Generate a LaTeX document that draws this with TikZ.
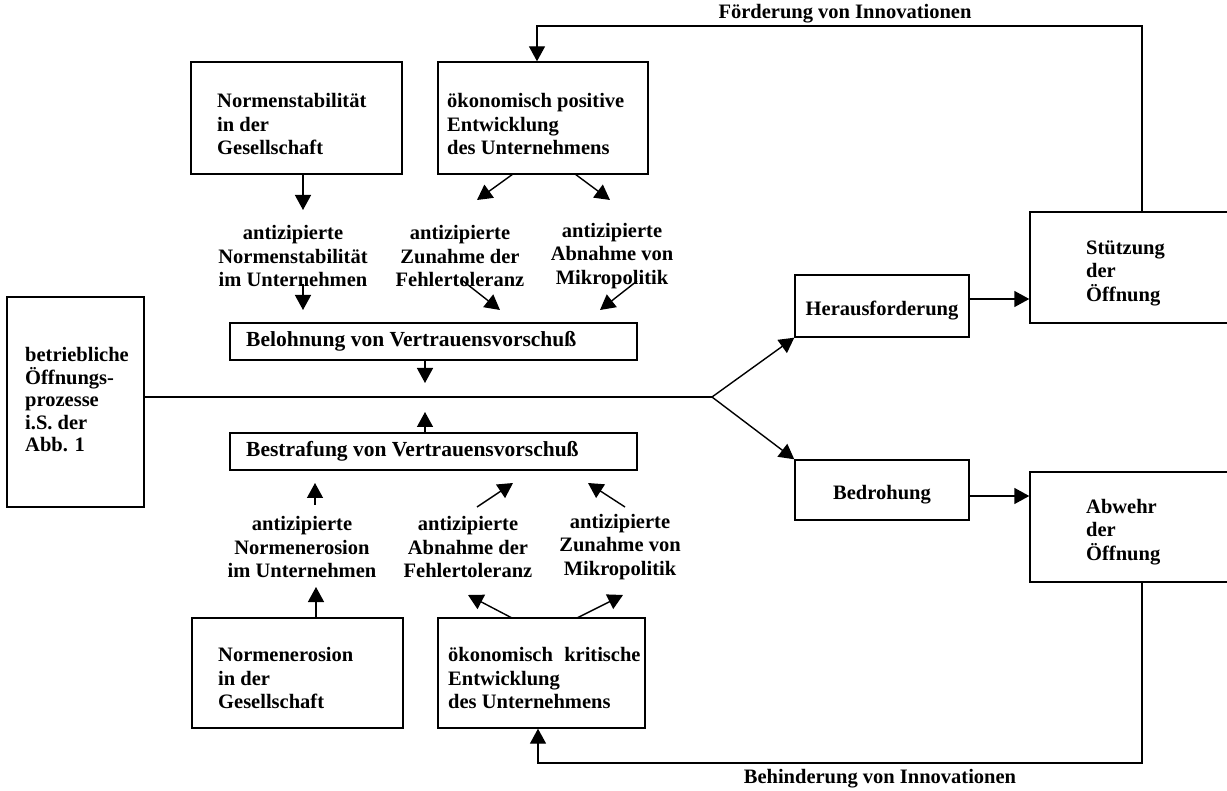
\documentclass[tikz,border=0pt]{standalone}
\usepackage{fontspec}
\setmainfont{Liberation Serif}
\usetikzlibrary{arrows.meta}
\begin{document}
\begin{tikzpicture}[x=1pt,y=-1pt,
  box/.style={draw, line width=1.4pt, inner sep=0pt},
  txt/.style={font=\bfseries\fontsize{20.5}{23.5}\selectfont, align=left, inner sep=0pt},
  ctxt/.style={font=\bfseries\fontsize{20.5}{23.5}\selectfont, align=center, inner sep=0pt},
  wtxt/.style={font=\bfseries\fontsize{21.5}{24}\selectfont, align=left, inner sep=0pt},
  lbl/.style={font=\bfseries\fontsize{20.5}{23}\selectfont, inner sep=0pt},
  ln/.style={line width=1.4pt},
  arr/.style={line width=1.4pt, -{Triangle[length=15pt,width=16pt]}}]
\useasboundingbox (0,0) rectangle (1227,791);

% top boxes
\node[box, minimum width=211pt, minimum height=112pt] (nsg) at (296.5,118) {};
\node[txt, anchor=west] (nsgt) at (217,124) {Normenstabilität\\in der\\Gesellschaft};
\node[box, minimum width=210pt, minimum height=112pt] (okp) at (543,118) {};
\node[txt, anchor=west] (okpt) at (447,124) {ökonomisch positive\\Entwicklung\\des Unternehmens};

% upper anticipation groups
\node[ctxt] (g1) at (293,256) {antizipierte\\Normenstabilität\\im Unternehmen};
\node[ctxt] (g2) at (460,256) {antizipierte\\Zunahme der\\Fehlertoleranz};
\node[ctxt] (g3) at (612,256) {antizipierte\\Abnahme von\\Mikropolitik};

% reward / punishment boxes
\node[box, minimum width=407pt, minimum height=37pt] (bel) at (433.5,341.5) {};
\node[wtxt, anchor=west] (belt) at (246,341.5) {Belohnung von Vertrauensvorschuß};
\node[box, minimum width=407pt, minimum height=37pt] (bes) at (433.5,451.5) {};
\node[wtxt, anchor=west] (best) at (246,451.5) {Bestrafung von Vertrauensvorschuß};

% lower anticipation groups
\node[ctxt] (h1) at (302,547) {antizipierte\\Normenerosion\\im Unternehmen};
\node[ctxt] (h2) at (468,547) {antizipierte\\Abnahme der\\Fehlertoleranz};
\node[ctxt] (h3) at (620,547) {antizipierte\\Zunahme von\\Mikropolitik};

% bottom boxes
\node[box, minimum width=211pt, minimum height=110pt] (nse) at (297.5,673) {};
\node[txt, anchor=west] (nset) at (218,678) {Normenerosion\\in der\\Gesellschaft};
\node[box, minimum width=207pt, minimum height=110pt] (okk) at (541.5,673) {};
\node[txt, anchor=west] (okkt) at (448,678) {ökonomisch\hspace{0.55em}kritische\\Entwicklung\\des Unternehmens};

% left box
\node[box, minimum width=137pt, minimum height=210pt] (betr) at (75.5,402) {};
\node[font=\bfseries\fontsize{20.5}{22.5}\selectfont, align=left, inner sep=0pt, anchor=west] (betrt) at (25,400) {betriebliche\\Öffnungs-\\prozesse\\i.S. der\\Abb. 1};

% right boxes
\node[box, minimum width=174pt, minimum height=62pt] (her) at (882,306) {};
\node[ctxt] (hert) at (882,311) {Herausforderung};
\node[box, minimum width=174pt, minimum height=60pt] (bed) at (882,490) {};
\node[ctxt] (bedt) at (882,495) {Bedrohung};
\node[box, minimum width=198pt, minimum height=111pt] (stu) at (1129,267.5) {};
\node[txt, anchor=west] (stut) at (1086,273) {Stützung\\der\\Öffnung};
\node[box, minimum width=198pt, minimum height=110pt] (abw) at (1129,527) {};
\node[txt, anchor=west] (abwt) at (1086,532) {Abwehr\\der\\Öffnung};

% labels
\node[lbl] (flab) at (845,14) {Förderung von Innovationen};
\node[lbl] (blab) at (880,779) {Behinderung von Innovationen};

% upper arrows
\coordinate (a1) at (303,210);
\draw[arr] (a1 |- nsg.south) -- (a1);
\coordinate (a2s) at (513,174); \coordinate (a2e) at (477,200);
\draw[arr] (a2s) -- (a2e);
\coordinate (a3s) at (575,174); \coordinate (a3e) at (610,200);
\draw[arr] (a3s) -- (a3e);
\coordinate (b1s) at (303,284); \coordinate (b1e) at (303,310);
\draw[arr] (b1s) -- (b1e);
\coordinate (b2s) at (463,281); \coordinate (b2e) at (500,310);
\draw[arr] (b2s) -- (b2e);
\coordinate (b3s) at (637,281); \coordinate (b3e) at (600,310);
\draw[arr] (b3s) -- (b3e);

% to main line
\coordinate (m1) at (425,383);
\draw[arr] (m1 |- bel.south) -- (m1);
\coordinate (m2) at (425,412);
\draw[arr] (m2 |- bes.north) -- (m2);

% lower arrows
\coordinate (c1s) at (315,505); \coordinate (c1e) at (315,483);
\draw[arr] (c1s) -- (c1e);
\coordinate (c2s) at (477,507); \coordinate (c2e) at (513,483);
\draw[arr] (c2s) -- (c2e);
\coordinate (c3s) at (625,507); \coordinate (c3e) at (588,483);
\draw[arr] (c3s) -- (c3e);
\coordinate (d1) at (316,587);
\draw[arr] (d1 |- nse.north) -- (d1);
\coordinate (d2s) at (512,618); \coordinate (d2e) at (468,595);
\draw[arr] (d2s) -- (d2e);
\coordinate (d3s) at (577,618); \coordinate (d3e) at (623,595);
\draw[arr] (d3s) -- (d3e);

% main line and branches
\coordinate (br) at (712,397);
\draw[ln] (betr.east |- br) -- (br);
\draw[arr] (br) -- (her.south west);
\draw[arr] (br) -- (bed.north west);
\coordinate (hy) at (969,299);
\draw[arr] (her.east |- hy) -- (stu.west |- hy);
\coordinate (by) at (969,496);
\draw[arr] (bed.east |- by) -- (abw.west |- by);

% feedback loops
\coordinate (ft) at (1142,26); \coordinate (fl) at (537,26);
\draw[arr, line join=miter] (ft |- stu.north) -- (ft) -- (fl) -- (fl |- okp.north);
\coordinate (bt) at (1142,763); \coordinate (bl) at (538,763);
\draw[arr, line join=miter] (bt |- abw.south) -- (bt) -- (bl) -- (bl |- okk.south);
\end{tikzpicture}
\end{document}
